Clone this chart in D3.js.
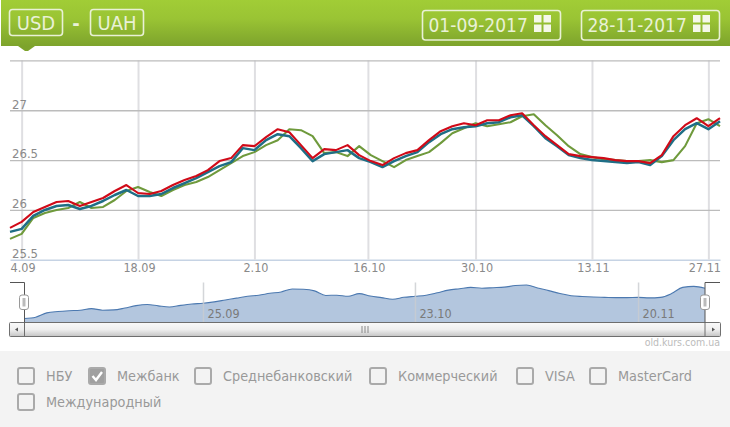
<!DOCTYPE html>
<html><head><meta charset="utf-8">
<script src="https://cdnjs.cloudflare.com/ajax/libs/d3/7.8.5/d3.min.js"></script>
<style>html,body{margin:0;padding:0;background:#fff;overflow:hidden}svg{display:block}text{font-family:"DejaVu Sans Condensed","DejaVu Sans",sans-serif}</style>
</head><body><svg id="c" width="730" height="427"></svg>
<script>
const mezhbankBid=[25.82,25.88,25.98,26.03,26.08,26.09,26.04,26.08,26.12,26.19,26.25,26.17,26.16,26.19,26.25,26.30,26.34,26.40,26.49,26.52,26.65,26.64,26.73,26.81,26.78,26.65,26.52,26.61,26.60,26.65,26.55,26.49,26.45,26.52,26.57,26.60,26.70,26.79,26.84,26.87,26.85,26.90,26.90,26.95,26.97,26.85,26.74,26.65,26.56,26.54,26.53,26.52,26.50,26.49,26.49,26.47,26.55,26.74,26.85,26.92,26.84,26.92];
const mezhbankAsk=[25.78,25.81,25.94,26.00,26.04,26.05,26.01,26.04,26.09,26.15,26.20,26.14,26.14,26.16,26.22,26.27,26.32,26.38,26.44,26.48,26.62,26.60,26.70,26.76,26.74,26.62,26.49,26.56,26.58,26.60,26.52,26.48,26.43,26.49,26.54,26.58,26.68,26.76,26.81,26.83,26.84,26.87,26.88,26.93,26.95,26.84,26.72,26.64,26.55,26.52,26.50,26.49,26.48,26.47,26.48,26.45,26.54,26.70,26.81,26.87,26.81,26.89];
const nbu=[25.71,25.76,25.92,25.97,26.00,26.02,26.08,26.02,26.03,26.10,26.19,26.23,26.18,26.14,26.20,26.25,26.28,26.33,26.40,26.47,26.54,26.58,26.65,26.70,26.81,26.80,26.74,26.57,26.58,26.54,26.64,26.55,26.49,26.43,26.50,26.54,26.58,26.67,26.77,26.82,26.87,26.84,26.86,26.88,26.94,26.96,26.85,26.75,26.64,26.56,26.53,26.51,26.50,26.49,26.49,26.50,26.48,26.50,26.64,26.87,26.91,26.84];
const xTickLabels=["4.09","18.09","2.10","16.10","30.10","13.11","27.11"];
const xTickIndex=[1,11,21,30.75,40,50,60];
const yTicks=[25.5,26,26.5,27,27.5];
const yTickLabels=["25.5","26","26.5","27",""];
const navTickLabels=["25.09","23.10","20.11"];
const navTickIndex=[16,35,55];
const currencies=["USD","UAH"];
const dateLabels=["01-09-2017","28-11-2017"];
const legendItems=["НБУ","Межбанк","Среднебанковский","Коммерческий","VISA","MasterCard","Международный"];
const legendChecked=[false,true,false,false,false,false,false];
const sourceLabel="old.kurs.com.ua";

const svg=d3.select("#c");
const defs=svg.append("defs");
const hg=defs.append("linearGradient").attr("id","hg").attr("x1",0).attr("x2",0).attr("y1",0).attr("y2",1);
hg.append("stop").attr("offset","0").attr("stop-color","#a1cd36");
hg.append("stop").attr("offset","0.4").attr("stop-color","#9ac434");
hg.append("stop").attr("offset","1").attr("stop-color","#7da32c");
const sg=defs.append("linearGradient").attr("id","sg").attr("x1",0).attr("x2",0).attr("y1",0).attr("y2",1);
sg.append("stop").attr("offset","0").attr("stop-color","#fafafa");
sg.append("stop").attr("offset","0.5").attr("stop-color","#efefef");
sg.append("stop").attr("offset","1").attr("stop-color","#c4c4c4");

// header
svg.append("rect").attr("x",1).attr("y",0).attr("width",729).attr("height",46).attr("fill","url(#hg)");
svg.append("path").attr("d","M18,46H35L28,51H25Z").attr("fill","#7da32c");
const hdr="#e9f1d6";
currencies.forEach((c,i)=>{
  const x=9.5+i*81;
  svg.append("rect").attr("x",x).attr("y",9.5).attr("width",53).attr("height",26).attr("rx",3).attr("fill","none").attr("stroke",hdr).attr("stroke-width",1.6);
  svg.append("text").attr("x",x+26.5).attr("y",30).attr("text-anchor","middle").attr("font-size",20).attr("fill",hdr).text(c);
});
svg.append("text").attr("x",76).attr("y",30).attr("text-anchor","middle").attr("font-size",20).attr("font-weight","bold").attr("fill",hdr).text("-");
dateLabels.forEach((d,i)=>{
  const x=422.5+i*159;
  svg.append("rect").attr("x",x).attr("y",10.5).attr("width",138).attr("height",29.5).attr("rx",3).attr("fill","none").attr("stroke",hdr).attr("stroke-width",1.6);
  svg.append("text").attr("x",x+6).attr("y",31.5).attr("font-size",19).attr("fill",hdr).text(d);
  [0,1].forEach(a=>[0,1].forEach(b=>{
    svg.append("rect").attr("x",x+111.5+a*9.5).attr("y",15+b*9.5).attr("width",7.5).attr("height",7.5).attr("fill","#f4f7ea");
  }));
});

// main plot
const x=d3.scaleLinear().domain([0,nbu.length-1]).range([10,720]);
const y=d3.scaleLinear().domain([25.5,27.5]).range([259.8,60.4]);
const gx=svg.append("g").attr("transform","translate(0,259.8)").call(d3.axisBottom(x).tickValues(xTickIndex).tickFormat((d,i)=>xTickLabels[i]).tickSizeInner(-199.4).tickSizeOuter(0).tickPadding(3));
gx.select(".domain").attr("stroke","#c6d3e4").attr("stroke-width",1.4);
gx.selectAll("line").attr("stroke","#dfdfe2").attr("stroke-width",2);
gx.selectAll("text").attr("font-size",12.5).attr("fill","#8a8a8a").attr("dx",1).attr("y",3);
gx.selectAll("text").filter((d,i)=>i===xTickLabels.length-1).attr("dx",-4);
const gy=svg.append("g").attr("transform","translate(10,0)").call(d3.axisRight(y).tickValues(yTicks).tickFormat((d,i)=>yTickLabels[i]).tickSize(710).tickPadding(0));
gy.select(".domain").remove();
gy.selectAll("line").attr("stroke","#bcbcbc").attr("stroke-width",1.3);
gy.selectAll("line").filter(d=>d===25.5).remove();
gy.selectAll("text").attr("x",2).attr("dy",-2.2).attr("font-size",13).attr("fill","#8a8a8a").attr("text-anchor","start");
const line=d3.line().x((d,i)=>x(i)).y(d=>y(d));
[[nbu,"#6f9a3c",2.1],[mezhbankAsk,"#1f6e86",2.5],[mezhbankBid,"#d00a18",2.1]].forEach(([s,c,w])=>{
  svg.append("path").datum(s).attr("d",line).attr("fill","none").attr("stroke",c).attr("stroke-width",w).attr("stroke-linejoin","round");
});

// navigator
const nx=d3.scaleLinear().domain([0,nbu.length-1]).range([24.5,705]);
const ny=d3.scaleLinear().domain([25.71,26.96]).range([318.5,285]);
const nb=322.5;
const gn=svg.append("g").attr("transform",`translate(0,${nb})`).call(d3.axisBottom(nx).tickValues(navTickIndex).tickFormat((d,i)=>navTickLabels[i]).tickSize(-40));
gn.select(".domain").remove();
svg.append("path").datum(nbu).attr("fill","#b3c6de").attr("d",d3.area().x((d,i)=>nx(i)).y0(nb).y1(d=>ny(d)).curve(d3.curveMonotoneX));
svg.append("path").datum(nbu).attr("fill","none").attr("stroke","#4c79b0").attr("stroke-width",1.1).attr("d",d3.line().x((d,i)=>nx(i)).y(d=>ny(d)).curve(d3.curveMonotoneX));
gn.raise();
gn.selectAll("line").attr("stroke","#c9ccd0").attr("stroke-opacity",0.8).attr("stroke-width",1.5);
gn.selectAll("text").attr("y",-4.5).attr("dy",0).attr("dx",4).attr("text-anchor","start").attr("font-size",12.5).attr("fill","#7a7a7a");

// scrollbar
svg.append("rect").attr("x",9.5).attr("y",322.5).attr("width",711).attr("height",14).attr("rx",1).attr("fill","url(#sg)").attr("stroke","#707070").attr("stroke-width",1);
svg.append("rect").attr("x",24.5).attr("y",322.5).attr("width",680.5).attr("height",14).attr("fill","url(#sg)").attr("stroke","#6e6e6e");
svg.append("path").attr("d","M18,327.5V331.5L15,329.5Z").attr("fill","#555");
svg.append("path").attr("d","M712,327.5V331.5L715,329.5Z").attr("fill","#555");
[-3,0,3].forEach(o=>svg.append("line").attr("x1",365+o).attr("x2",365+o).attr("y1",326).attr("y2",333).attr("stroke","#888").attr("stroke-width",1));
// handles
svg.append("path").attr("d","M10,282.5H24.5V322.5").attr("fill","none").attr("stroke","#555").attr("stroke-width",1);
svg.append("path").attr("d","M720,282.5H705V322.5").attr("fill","none").attr("stroke","#555").attr("stroke-width",1);
[24,705].forEach(hx=>{
  svg.append("rect").attr("x",hx-4.5).attr("y",295).attr("width",9).attr("height",14.5).attr("rx",2.5).attr("fill","#fff").attr("stroke","#999").attr("stroke-width",1);
  svg.append("rect").attr("x",hx-1.5).attr("y",298).attr("width",3).attr("height",8.5).attr("fill","#bbb");
});
svg.append("text").attr("x",720).attr("y",345.5).attr("text-anchor","end").attr("font-size",10.5).attr("fill","#bcbcbc").text(sourceLabel);

// legend
svg.append("rect").attr("x",0).attr("y",351).attr("width",730).attr("height",76).attr("fill","#f3f3f3");
const boxX=[17,88,194,369,516,589,17];
const rowY=[0,0,0,0,0,0,1];
legendItems.forEach((t,i)=>{
  const bx=boxX[i], by=368+rowY[i]*26;
  svg.append("rect").attr("x",bx+1).attr("y",by).attr("width",16).attr("height",16).attr("rx",2).attr("fill",legendChecked[i]?"#a0a0a0":"none").attr("stroke","#aaaaaa").attr("stroke-width",2);
  if(legendChecked[i]) svg.append("path").attr("d",`M${bx+4.5},${by+8}L${bx+8},${by+12}L${bx+14},${by+4}`).attr("fill","none").attr("stroke","#fff").attr("stroke-width",2.4);
  svg.append("text").attr("x",bx+29).attr("y",by+13).attr("font-size",14.3).attr("fill","#999").text(t);
});
</script></body></html>
